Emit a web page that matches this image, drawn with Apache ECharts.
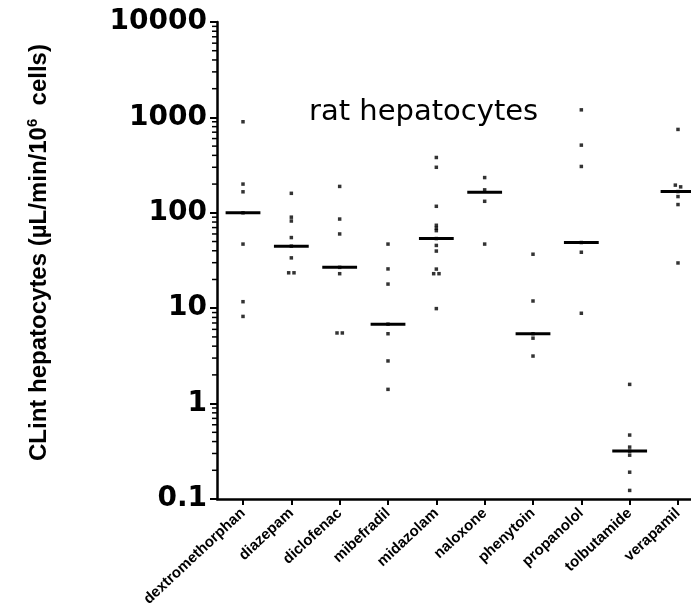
<!DOCTYPE html>
<html>
<head>
<meta charset="utf-8">
<script src="https://cdn.jsdelivr.net/npm/echarts@6/dist/echarts.min.js"></script>
<style>
  html, body { margin: 0; padding: 0; background: #fff; }
  #chart { width: 691px; height: 613px; }
</style>
</head>
<body>
<div id="chart"></div>
<script>
// drugs on the x axis
const categories = ['dextromethorphan', 'diazepam', 'diclofenac', 'mibefradil', 'midazolam',
  'naloxone', 'phenytoin', 'propanolol', 'tolbutamide', 'verapamil'];

// individual CLint values per drug (uL/min/10^6 cells)
const dextromethorphan = [900, 200, 166, 100, 47, 11.7, 8.2];
const diazepam = [160, 90, 82, 55, 44.7, 33.7, 23.5, 23.5];
const diclofenac = [189, 86, 60, 26.8, 23, 5.5, 5.5];
const mibefradil = [47, 25.8, 17.9, 6.8, 5.4, 2.8, 1.41];
const midazolam = [380, 300, 117, 74, 69, 65, 53.7, 45.5, 39.7, 25.7, 23, 23, 9.9];
const naloxone = [234, 174, 132, 47];
const phenytoin = [36.8, 11.9, 5.4, 4.85, 3.15];
const propanolol = [1200, 512, 306, 48.8, 38.6, 8.85];
const tolbutamide = [1.59, 0.468, 0.35, 0.318, 0.288, 0.191, 0.123];
const verapamil = [748, 195, 187, 167, 148, 122, 29.8];

// median line per drug
const medians = [100, 44.7, 26.8, 6.8, 53.7, 164, 5.4, 48.8, 0.318, 167];

const yTicks = [0.1, 1, 10, 100, 1000, 10000];

const groups = [dextromethorphan, diazepam, diclofenac, mibefradil, midazolam,
  naloxone, phenytoin, propanolol, tolbutamide, verapamil];

// spread points that would sit on top of each other (like prism does)
function spread(vals, idx) {
  const sorted = vals.slice().sort((a, b) => b - a);
  const out = [];
  let i = 0;
  while (i < sorted.length) {
    let j = i + 1;
    while (j < sorted.length && Math.log10(sorted[j - 1]) - Math.log10(sorted[j]) < 0.02) j++;
    const n = j - i;
    for (let k = 0; k < n; k++) {
      out.push([idx + (k - (n - 1) / 2) * 0.11, sorted[i + k]]);
    }
    i = j;
  }
  return out;
}

let points = [];
groups.forEach((g, i) => { points = points.concat(spread(g, i)); });

const xMin = -0.538;

// minor ticks 2..9 in each decade
const minorTicks = [];
for (let d = -1; d < 4; d++) {
  for (let m = 2; m <= 9; m++) minorTicks.push([xMin, m * Math.pow(10, d)]);
}

const chart = echarts.init(document.getElementById('chart'));

chart.setOption({
  animation: false,
  title: {
    text: 'rat hepatocytes',
    left: 304,
    top: 93,
    textStyle: { fontFamily: 'DejaVu Sans', fontWeight: 'normal', fontSize: 29, color: '#000' }
  },
  grid: { left: 217, right: 0, top: 22, bottom: 114 },
  xAxis: {
    type: 'value',
    min: xMin,
    max: 9.269,
    splitLine: { show: false },
    axisLine: { onZero: false, lineStyle: { color: '#000', width: 2.5 } },
    axisTick: { customValues: categories.map((c, i) => i), length: 6, lineStyle: { width: 2, color: '#000' } },
    axisLabel: {
      customValues: categories.map((c, i) => i),
      formatter: v => categories[Math.round(v)],
      rotate: 43,
      margin: 12,
      fontFamily: 'Liberation Sans',
      fontWeight: 'bold',
      fontSize: 15,
      color: '#000'
    }
  },
  yAxis: {
    type: 'log',
    logBase: 10,
    min: 0.1,
    max: 10000,
    name: '{a|CLint hepatocytes (\u00b5L/min/10}{s|6}{a|  cells)}',
    nameLocation: 'middle',
    nameRotate: 90,
    nameGap: 164,
    nameTextStyle: {
      padding: [0, 0, 0, 16],
      rich: {
        a: { fontFamily: 'Liberation Sans', fontWeight: 'bold', fontSize: 24, color: '#000' },
        s: { fontFamily: 'Liberation Sans', fontWeight: 'bold', fontSize: 15, color: '#000', padding: [0, 0, 13, 0] }
      }
    },
    splitLine: { show: false },
    axisLine: { onZero: false, lineStyle: { color: '#000', width: 2.5 } },
    axisTick: { length: 7, lineStyle: { width: 2, color: '#000' } },
    axisLabel: {
      formatter: v => String(+v.toPrecision(6)),
      margin: 10,
      fontFamily: 'DejaVu Sans',
      fontWeight: 'bold',
      fontSize: 28,
      color: '#000'
    }
  },
  series: [
    {
      type: 'custom',
      silent: true,
      renderItem: (params, api) => {
        const p = api.coord([api.value(0), api.value(1)]);
        return {
          type: 'line',
          shape: { x1: p[0] - 5, y1: p[1], x2: p[0], y2: p[1] },
          style: { stroke: '#000', lineWidth: 1.5 }
        };
      },
      data: minorTicks
    },
    {
      type: 'custom',
      renderItem: (params, api) => {
        const a = api.coord([api.value(0) - 0.36, api.value(1)]);
        const b = api.coord([api.value(0) + 0.36, api.value(1)]);
        return {
          type: 'line',
          shape: { x1: a[0], y1: a[1], x2: b[0], y2: b[1] },
          style: { stroke: '#000', lineWidth: 3 }
        };
      },
      data: medians.map((m, i) => [i, m])
    },
    {
      type: 'scatter',
      symbol: 'rect',
      symbolSize: 3.5,
      itemStyle: { color: '#000' },
      data: points
    }
  ]
});
</script>
</body>
</html>
